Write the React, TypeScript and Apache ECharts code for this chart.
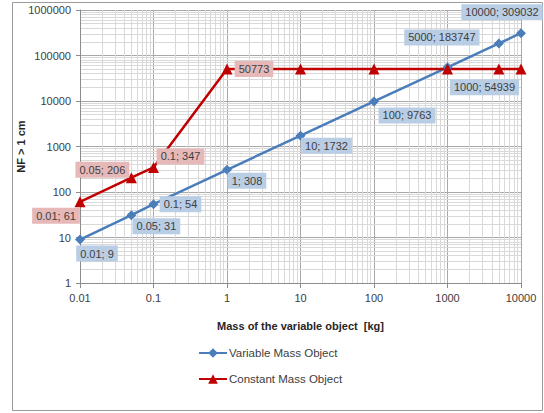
import React, { useEffect, useRef } from "react";
import * as echarts from "echarts";

const massKg = [0.01, 0.05, 0.1, 1, 10, 100, 1000, 5000, 10000];
const variableNF = [9, 31, 54, 308, 1732, 9763, 54939, 183747, 309032];
const constantNF = [61, 206, 347, 50773, 50773, 50773, 50773, 50773, 50773];
const constantLabelled = [true, true, true, true, false, false, false, false, false];

const xDecades = [0.01, 0.1, 1, 10, 100, 1000];
const yDecades = [1, 10, 100, 1000, 10000, 100000];
const minorSteps = [2, 3, 4, 5, 6, 7, 8, 9];

const blueOffsets = [[17, 14], [25, 11], [27, 0], [20, 11], [26, 10], [33, 14], [37, 20], [-57, -6], [-19, -21]];
const redOffsets = [[-24, 14], [-29, -8], [27, -11], [27, 0]];

const FONT = "'Liberation Sans', Arial, sans-serif";
const TXT = "#404040";

function fmt(v: number) {
  return String(+(+v).toPrecision(6));
}

export default function App() {
  const ref = useRef<HTMLDivElement>(null);
  useEffect(() => {
    if (!ref.current) return;
    const chart = echarts.init(ref.current, null, { renderer: "svg" });

    const minorX: any[] = [];
    xDecades.forEach((d) => minorSteps.forEach((m) => minorX.push({ xAxis: +(d * m).toPrecision(6) })));
    const minorY: any[] = [];
    yDecades.forEach((d) => minorSteps.forEach((m) => minorY.push({ yAxis: +(d * m).toPrecision(6) })));

    const blueData = massKg.map((x, i) => ({
      value: [x, variableNF[i]],
      label: {
        show: true,
        position: "inside",
        offset: blueOffsets[i],
        formatter: `${fmt(x)}; ${variableNF[i]}`,
        backgroundColor: "#b9cde5",
        padding: [3, 4, 2, 4],
        color: TXT,
        fontSize: 11,
        fontFamily: FONT,
      },
    }));
    const redData = massKg.map((x, i) => ({
      value: [x, constantNF[i]],
      label: constantLabelled[i]
        ? {
            show: true,
            position: "inside",
            offset: redOffsets[i],
            formatter: i === 3 ? `${constantNF[i]}` : `${fmt(x)}; ${constantNF[i]}`,
            backgroundColor: "#e6b9b8",
            padding: [3, 4, 2, 4],
            color: TXT,
            fontSize: 11,
            fontFamily: FONT,
          }
        : { show: false },
    }));

    chart.setOption({
      animation: false,
      textStyle: { fontFamily: FONT },
      graphic: [
        {
          type: "rect",
          shape: { x: 12.5, y: 2.5, width: 530, height: 408 },
          style: { fill: "none", stroke: "#9a9a9a", lineWidth: 1 },
          silent: true,
          z: -10,
        },
      ],
      grid: { left: 80, right: 23, top: 10, bottom: 130 },
      legend: {
        data: ["Variable Mass Object", "Constant Mass Object"],
        orient: "vertical",
        left: 193,
        top: 342,
        itemWidth: 28,
        itemHeight: 12,
        itemGap: 14,
        textStyle: { color: TXT, fontSize: 11.5, fontFamily: FONT, padding: [0, 0, 0, -3] },
      },
      xAxis: {
        type: "log",
        logBase: 10,
        min: 0.01,
        max: 10000,
        name: "Mass of the variable object  [kg]",
        nameLocation: "middle",
        nameGap: 37,
        nameMoveOverlap: false,
        nameTextStyle: { color: "#262626", fontWeight: "bold", fontSize: 11, fontFamily: FONT },
        axisLine: { lineStyle: { color: "#8c8c8c" } },
        axisTick: { show: true, length: 5, lineStyle: { color: "#8c8c8c" } },
        axisLabel: { color: TXT, fontSize: 11, margin: 9, formatter: (v: number) => fmt(v) },
        splitLine: { show: true, lineStyle: { color: "#a8a8a8", width: 1 } },
      },
      yAxis: {
        type: "log",
        logBase: 10,
        min: 1,
        max: 1000000,
        name: "NF > 1 cm",
        nameLocation: "middle",
        nameGap: 54,
        nameMoveOverlap: false,
        nameTextStyle: { color: "#262626", fontWeight: "bold", fontSize: 11, fontFamily: FONT },
        axisLine: { show: true, lineStyle: { color: "#8c8c8c" } },
        axisTick: { show: true, length: 4, lineStyle: { color: "#8c8c8c" } },
        axisLabel: { color: TXT, fontSize: 11, margin: 9, formatter: (v: number) => fmt(v) },
        splitLine: { show: true, lineStyle: { color: "#a8a8a8", width: 1 } },
      },
      series: [
        {
          name: "minor-grid",
          type: "line",
          data: [],
          z: 0,
          silent: true,
          markLine: {
            silent: true,
            z: 0,
            symbol: "none",
            label: { show: false },
            animation: false,
            lineStyle: { color: "#d9d9d9", width: 1, type: "solid" },
            data: [...minorX, ...minorY],
          },
        },
        {
          name: "Variable Mass Object",
          type: "line",
          z: 3,
          data: blueData,
          symbol: "diamond",
          symbolSize: 10,
          color: "#4a7ebb",
          lineStyle: { color: "#4a7ebb", width: 2.5 },
          itemStyle: { color: "#4a7ebb" },
        },
        {
          name: "Constant Mass Object",
          type: "line",
          z: 3,
          data: redData,
          symbol: "triangle",
          symbolSize: 11,
          color: "#c00000",
          lineStyle: { color: "#c00000", width: 2.5 },
          itemStyle: { color: "#c00000" },
        },
      ],
    });
    return () => chart.dispose();
  }, []);
  return (
    <div
      ref={ref}
      style={{ position: "absolute", left: 0, top: 0, width: 544, height: 413, background: "#fff" }}
    />
  );
}
